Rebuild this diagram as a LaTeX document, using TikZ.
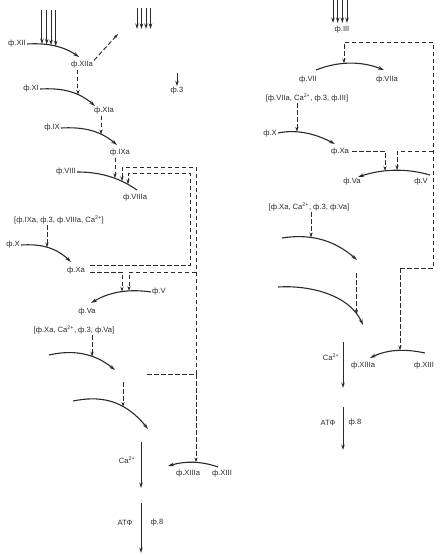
\documentclass[tikz,border=0pt]{standalone}
\usepackage{fontspec}
\setmainfont{Liberation Sans}
\usetikzlibrary{arrows.meta,calc}
\definecolor{ink}{HTML}{2A2A2A}
\begin{document}
\begin{tikzpicture}[x=1pt,y=-1pt,
  lbl/.style={font=\fontsize{7.6}{8.5}\selectfont, text=ink, inner sep=1pt},
  rx/.style={draw=ink, line width=1.1pt},
  rxa/.style={rx, -{Stealth[length=6pt,width=3.6pt]}},
  dsh/.style={draw=ink, line width=0.95pt, dash pattern=on 4.5pt off 2.5pt},
  dar/.style={dsh, -{Stealth[length=5pt,width=3.2pt]}},
  sar/.style={draw=ink, line width=0.95pt, -{Stealth[length=5.5pt,width=3.4pt]}},
]
\useasboundingbox (0,0) rectangle (442,555);

% ---------------- left column: labels ----------------
\node[lbl, anchor=east] (xii) at (27,44) {ф.XII};
\node[lbl] (xiia) at (82,65) {ф.XIIa};
\node[lbl, anchor=east] (xi) at (40,89) {ф.XI};
\node[lbl] (xia) at (104,111) {ф.XIa};
\node[lbl, anchor=east] (ix) at (61,128) {ф.IX};
\node[lbl] (ixa) at (120,153) {ф.IXa};
\node[lbl, anchor=east] (viii) at (77,172) {ф.VIII};
\node[lbl] (viiia) at (135,198) {ф.VIIIa};
\node[lbl] (br1) at (59,220) {[ф.IXa, ф.3, ф.VIIIa, Ca\textsuperscript{2+}]};
\node[lbl, anchor=east] (x) at (21,245) {ф.X};
\node[lbl] (xa) at (76,271) {ф.Xa};
\node[lbl, anchor=west] (v) at (151,292) {ф.V};
\node[lbl] (va) at (87,312) {ф.Va};
\node[lbl] (br2) at (74,330) {[ф.Xa, Ca\textsuperscript{2+}, ф.3, ф.Va]};
\node[lbl] (f3) at (177,91) {ф.3};
\node[lbl] (ca) at (127,460) {Ca\textsuperscript{2+}};
\node[lbl] (xiiia) at (188,474) {ф.XIIIa};
\node[lbl] (xiii) at (222,474) {ф.XIII};
\node[lbl] (atf) at (125,523) {АТФ};
\node[lbl] (f8) at (157,523) {ф.8};

% ---------------- left column: reaction curves ----------------
\draw[rxa] (xii.east) .. controls (44.3,43) and (61.7,45) .. (79,57)
  coordinate[pos=0.288] (hA1) coordinate[pos=0.379] (hA2)
  coordinate[pos=0.462] (hA3) coordinate[pos=0.552] (hA4);
\draw[rxa] (xi.east) .. controls (58.3,88) and (76.7,90) .. (95,106)
  coordinate[pos=0.69] (hxi);
\draw[rxa] (ix.east) .. controls (79.7,127) and (98.3,129) .. (117,145)
  coordinate[pos=0.714] (hix);
\draw[rx] (viii.east) .. controls (97,172) and (117,176) .. (137,190)
  coordinate[pos=0.633] (h1) coordinate[pos=0.75] (h2) coordinate[pos=0.85] (h3);
\draw[rxa] (x.east) .. controls (37.7,244) and (54.3,246) .. (71,262)
  coordinate[pos=0.52] (hx);
\draw[rxa] (v.west) .. controls (131,289) and (111,291) .. (91,303)
  coordinate[pos=0.367] (hv2) coordinate[pos=0.483] (hv1);
\draw[rxa] (49,355) .. controls (71,350) and (93,352) .. (115,370)
  coordinate[pos=0.652] (hl3);
\draw[rxa] (73,401) .. controls (98,396) and (123,398) .. (148,429)
  coordinate[pos=0.667] (hl4);
\draw[rxa] (218,467) .. controls (201.3,461) and (184.7,461) .. (168,466)
  coordinate[pos=0.44] (h13);

% ---------------- left column: solid arrows ----------------
\coordinate (topL) at (0,10);
\foreach \h in {hA1,hA2,hA3,hA4} \draw[sar] (\h |- topL) -- (\h);
\coordinate (m1a) at (137,8);   \coordinate (m1b) at (137,29);
\coordinate (m2a) at (141.5,8); \coordinate (m2b) at (141.5,29);
\coordinate (m3a) at (146,8);   \coordinate (m3b) at (146,29);
\coordinate (m4a) at (150.5,8); \coordinate (m4b) at (150.5,29);
\draw[sar] (m1a) -- (m1b);
\draw[sar] (m2a) -- (m2b);
\draw[sar] (m3a) -- (m3b);
\draw[sar] (m4a) -- (m4b);
\coordinate (f3s) at (177,73);
\draw[sar] (f3s) -- (f3.north);
\coordinate (ca1) at (141,442); \coordinate (ca2) at (141,488);
\draw[sar] (ca1) -- (ca2);
\coordinate (at1) at (141,503); \coordinate (at2) at (141,553);
\draw[sar] (at1) -- (at2);

% ---------------- left column: dashed connectors ----------------
\coordinate (xiiOut) at (118,34);
\draw[dar] (xiia.north east) -- (xiiOut);
\draw[dar] (xiia.south -| hxi) -- (hxi);
\draw[dar] (xia.south -| hix) -- (hix);
\draw[dar] (ixa.south -| h1) -- (h1);
\draw[dar] (br1.south -| hx) -- (hx);
\draw[dar] (br2.south -| hl3) -- (hl3);
\coordinate (l4s) at (123,382);
\draw[dar] (hl4 |- l4s) -- (hl4);

\coordinate (xaU) at (90,265);
\coordinate (xaL) at (90,272);
\coordinate (ib) at (190,173);
\draw[dar] (xaU) -| (ib) -| (h3);
\draw[dar] (xaL) -| (hv1);

\coordinate (ob1) at (196,167);
\coordinate (ob2) at (196,374);
\coordinate (ov) at (196,272);
\coordinate (thr) at (147,374);
\draw[dsh] (thr) -- (ob2);
\draw[dar] (ob2) -- (ob1) -| (h2);
\draw[dar] (ov) -| (hv2);
\draw[dar] (h13 |- ob2) -- (h13);

% ---------------- right column: labels ----------------
\node[lbl] (iii) at (342,30) {ф.III};
\node[lbl] (vii) at (308,80) {ф.VII};
\node[lbl] (viia) at (387,80) {ф.VIIa};
\node[lbl] (br3) at (307,98) {[ф.VIIa, Ca\textsuperscript{2+}, ф.3, ф.III]};
\node[lbl, anchor=east] (rx) at (278,134) {ф.X};
\node[lbl] (rxa) at (340,152) {ф.Xa};
\node[lbl] (rva) at (352,182) {ф.Va};
\node[lbl] (rv) at (421,182) {ф.V};
\node[lbl] (br4) at (309,207) {[ф.Xa, Ca\textsuperscript{2+}, ф.3, ф.Va]};
\node[lbl] (rxiiia) at (363,366) {ф.XIIIa};
\node[lbl] (rxiii) at (424,366) {ф.XIII};
\node[lbl] (rca) at (331,357) {Ca\textsuperscript{2+}};
\node[lbl] (ratf) at (328,423) {АТФ};
\node[lbl] (rf8) at (355,423) {ф.8};

% ---------------- right column: reaction curves ----------------
\draw[rxa] (316,70) .. controls (338.7,61) and (361.3,61) .. (384,70)
  coordinate[pos=0.412] (hvii);
\draw[rxa] (278,133) .. controls (297,129) and (316,134) .. (335,144)
  coordinate[pos=0.333] (hrx);
\draw[rxa] (430,175) .. controls (406,168) and (382,169) .. (358,177)
  coordinate[pos=0.458] (hrv2) coordinate[pos=0.625] (hrv1);
\draw[rxa] (282,238) .. controls (307,234) and (332,238) .. (357,260)
  coordinate[pos=0.387] (hr3);
\draw[rxa] (278,287) .. controls (308,285) and (349,294) .. (363,325)
  coordinate[pos=0.875] (hr4);
\draw[rxa] (425,353) .. controls (406.7,349) and (388.3,349) .. (370,358)
  coordinate[pos=0.4545] (hr13);

% ---------------- right column: solid arrows ----------------
\coordinate (topR) at (0,0);
\coordinate (r1) at (333,23); \coordinate (r2) at (337.7,23);
\coordinate (r3) at (342.3,23); \coordinate (r4) at (347,23);
\foreach \h in {r1,r2,r3,r4} \draw[sar] (\h |- topR) -- (\h);
\coordinate (rca1) at (343,342); \coordinate (rca2) at (343,388);
\draw[sar] (rca1) -- (rca2);
\coordinate (rat1) at (343,407); \coordinate (rat2) at (343,450);
\draw[sar] (rat1) -- (rat2);

% ---------------- right column: dashed connectors ----------------
\coordinate (rc1) at (433,42);
\coordinate (rc2) at (433,151);
\coordinate (rc3) at (433,268);
\coordinate (rthr) at (400,268);
\coordinate (rxaE) at (352,151);
\draw[dar] (rthr) -- (rc3) -- (rc1) -| (hvii);
\draw[dar] (rc2) -| (hrv2);
\draw[dar] (rxaE) -| (hrv1);
\draw[dar] (hr13 |- rthr) -- (hr13);
\draw[dar] (br3.south -| hrx) -- (hrx);
\draw[dar] (br4.south -| hr3) -- (hr3);
\coordinate (r4s) at (357,273);
\draw[dar] (hr4 |- r4s) -- (hr4);
\end{tikzpicture}
\end{document}
